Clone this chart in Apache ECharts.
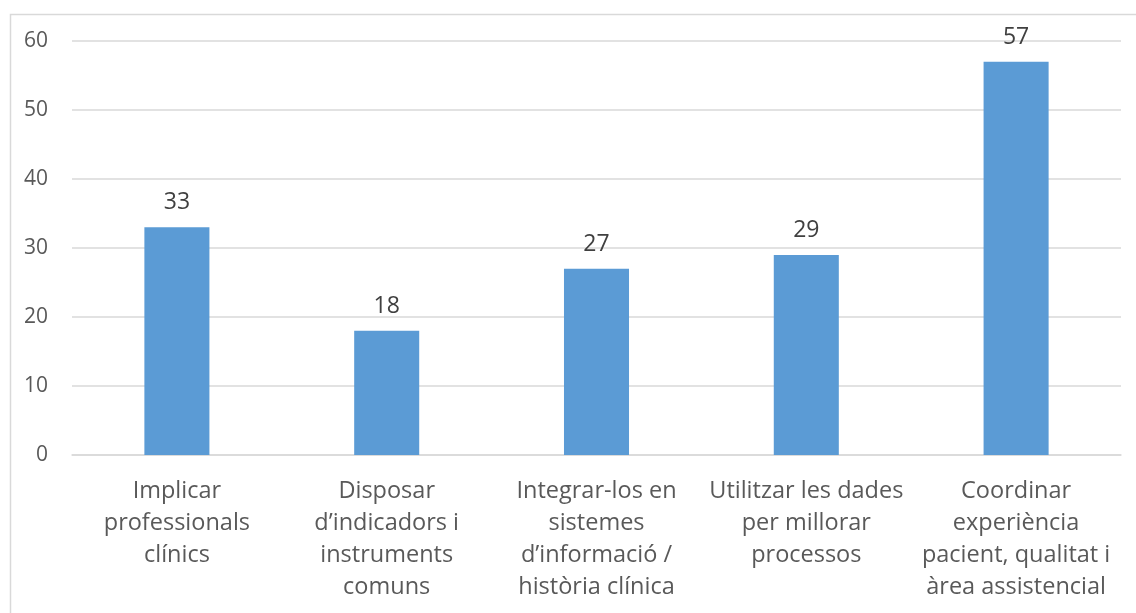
<!DOCTYPE html>
<html><head><meta charset="utf-8">
<script src="https://cdn.jsdelivr.net/npm/echarts@6/dist/echarts.min.js"></script>
<style>html,body{margin:0;padding:0;background:#fff}#c{width:1136px;height:613px}</style>
</head><body><div id="c"></div>
<script>
const categories = [
  "Implicar\nprofessionals\nclínics",
  "Disposar\nd’indicadors i\ninstruments\ncomuns",
  "Integrar-los en\nsistemes\nd’informació /\nhistòria clínica",
  "Utilitzar les dades\nper millorar\nprocessos",
  "Coordinar\nexperiència\npacient, qualitat i\nàrea assistencial"
];
const values = [33, 18, 27, 29, 57];
const yTicks = {min: 0, max: 60, interval: 10};

const chart = echarts.init(document.getElementById('c'), null, {renderer: 'canvas'});
const font = '"Open Sans", sans-serif';
chart.setOption({
  animation: false,
  textStyle: {fontFamily: font},
  graphic: [{
    type: 'rect', left: 8, top: 12, z: -1,
    shape: {width: 1140, height: 620},
    style: {fill: 'none', stroke: '#D9D9D9', lineWidth: 1.5}
  }],
  grid: {left: 72, right: 15, top: 41, bottom: 158, containLabel: false},
  xAxis: {
    type: 'category', data: categories,
    axisLine: {show: true, lineStyle: {color: '#D9D9D9', width: 1.5}},
    axisTick: {show: false},
    axisLabel: {color: '#595959', fontSize: 23.5, lineHeight: 32, margin: 20, interval: 0, fontFamily: font}
  },
  yAxis: {
    type: 'value', min: yTicks.min, max: yTicks.max, interval: yTicks.interval,
    axisLine: {show: false}, axisTick: {show: false},
    splitLine: {lineStyle: {color: '#D9D9D9', width: 1.5}},
    axisLabel: {color: '#595959', fontSize: 21, margin: 24, fontFamily: font}
  },
  series: [{
    type: 'bar', data: values, barWidth: '31%',
    itemStyle: {color: '#5B9BD5'},
    label: {show: true, position: 'top', color: '#404040', fontSize: 23, distance: 13, fontFamily: font}
  }]
});
</script></body></html>
